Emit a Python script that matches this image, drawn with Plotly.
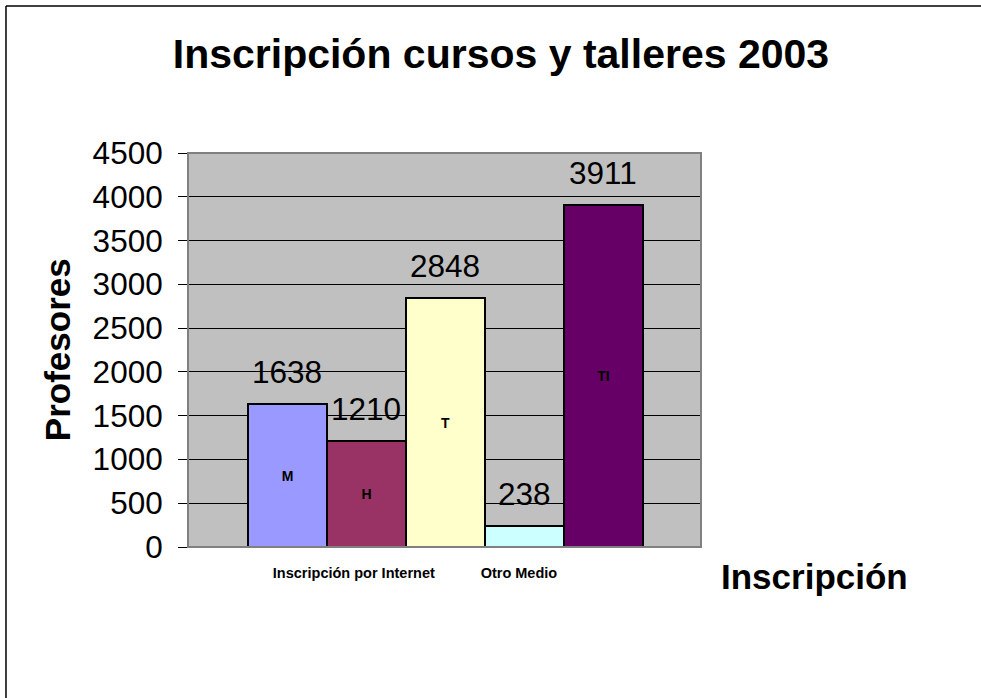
import plotly.graph_objects as go

# Data
series_names = ["M", "H", "T", "", "TI"]
values = [1638, 1210, 2848, 238, 3911]
bar_colors = ["#9999FF", "#993366", "#FFFFCC", "#CCFFFF", "#660066"]
category_labels = ["Inscripción por Internet", "Otro Medio"]
category_positions = [0.84, 2.93]
y_ticks = [0, 500, 1000, 1500, 2000, 2500, 3000, 3500, 4000, 4500]

FONT = "Liberation Sans, Arial, sans-serif"
xs = list(range(len(values)))

fig = go.Figure()
fig.add_trace(go.Bar(
    x=xs, y=values, width=1,
    marker=dict(color=bar_colors, line=dict(color="black", width=2)),
    text=["<b>%s</b>" % s if s else "" for s in series_names],
    textposition="inside", insidetextanchor="middle",
    insidetextfont=dict(family=FONT, size=14, color="black"),
    textangle=0, cliponaxis=False, showlegend=False, hoverinfo="skip",
))

annotations = []
for x, v in zip(xs, values):
    annotations.append(dict(
        x=x, y=v, xref="x", yref="y", text=str(v), showarrow=False,
        yanchor="middle", yshift=32,
        font=dict(family=FONT, size=31.5, color="black"),
    ))

annotations.append(dict(
    x=-0.255, y=0.5, xref="paper", yref="paper", text="<b>Profesores</b>",
    textangle=-90, showarrow=False, xanchor="center", yanchor="middle",
    font=dict(family=FONT, size=35, color="black"),
))
annotations.append(dict(
    x=1.222, y=-0.076, xref="paper", yref="paper", text="<b>Inscripción</b>",
    showarrow=False, xanchor="center", yanchor="middle",
    font=dict(family=FONT, size=35, color="black"),
))

shapes = [
    dict(type="rect", xref="paper", yref="paper", x0=0, y0=0, x1=1, y1=1,
         line=dict(color="#808080", width=2), layer="above"),
    dict(type="line", xref="paper", yref="paper", x0=-0.3548, y0=1.3731,
         x1=1.6, y1=1.3731, line=dict(color="black", width=1.5)),
    dict(type="line", xref="paper", yref="paper", x0=-0.3548, y0=1.3731,
         x1=-0.3548, y1=-0.45, line=dict(color="black", width=1.5)),
]

fig.update_layout(
    width=981, height=698, autosize=False,
    margin=dict(l=188, r=280, t=153, b=151, pad=0),
    paper_bgcolor="white", plot_bgcolor="#C0C0C0",
    title=dict(text="<b>Inscripción cursos y talleres 2003</b>",
               x=0.610, xref="paper", xanchor="center",
               y=1 - 54 / 698, yref="container", yanchor="middle",
               font=dict(family=FONT, size=41, color="black")),
    bargap=0,
    xaxis=dict(range=[-1.259, 5.235], tickvals=category_positions,
               ticktext=category_labels, ticks="", showgrid=False,
               zeroline=False, showline=False, ticklabelstandoff=15,
               tickfont=dict(family=FONT, size=14.5, color="black", weight="bold")),
    yaxis=dict(range=[0, 4500], tickvals=y_ticks, ticks="outside", ticklen=9,
               tickcolor="black", tickwidth=1, showgrid=True, gridcolor="black",
               gridwidth=1, zeroline=False, showline=False,
               ticklabelstandoff=9,
               tickfont=dict(family=FONT, size=31.5, color="black")),
    annotations=annotations, shapes=shapes,
)

fig.write_html(
    "out.html",
    config={"displayModeBar": False},
    post_script="document.body.style.margin='0';document.body.style.padding='0';",
)
